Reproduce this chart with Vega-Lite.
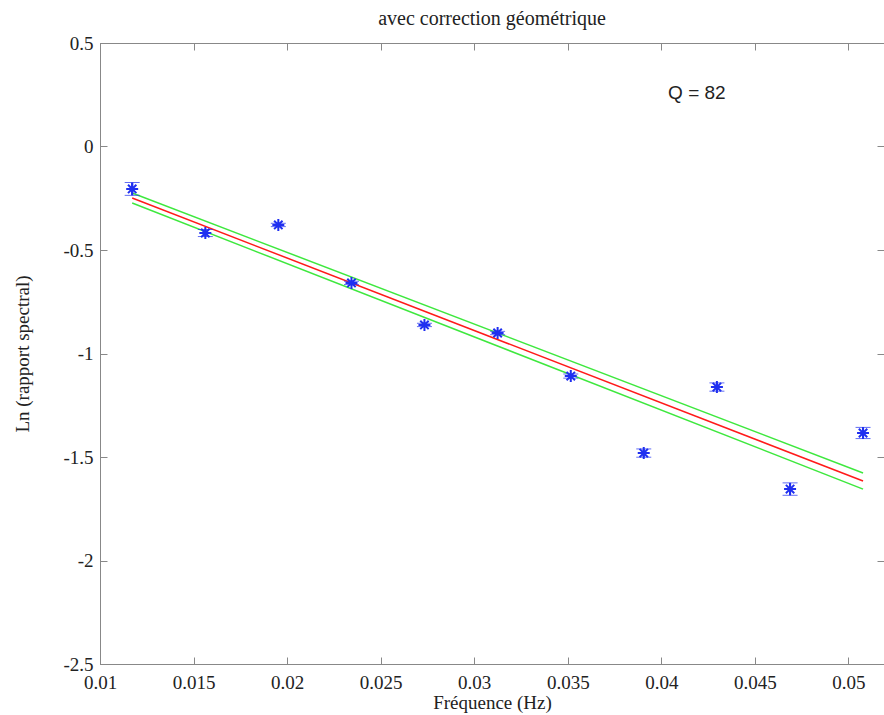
{
  "$schema": "https://vega.github.io/schema/vega-lite/v6.json",
  "width": 784,
  "height": 621,
  "autosize": {"type": "none"},
  "padding": {"left": 100, "top": 43, "right": 0, "bottom": 51},
  "background": "white",
  "title": {"text": "avec correction géométrique", "font": "Liberation Serif", "fontSize": 20, "fontWeight": "normal", "color": "#222222", "offset": 5},
  "config": {
    "view": {"stroke": "#888888", "strokeWidth": 1},
    "axis": {
      "labelFont": "Liberation Serif", "labelFontSize": 19, "labelColor": "#222222", "labelFlush": false,
      "titleFont": "Liberation Serif", "titleFontSize": 19, "titleFontWeight": "normal", "titleColor": "#222222",
      "grid": false, "domainColor": "#888888", "tickColor": "#888888", "tickSize": -7
    }
  },
  "datasets": {
    "pts": [
      {"f": 0.01172, "v": -0.205, "lo": -0.236, "hi": -0.174},
      {"f": 0.01563, "v": -0.418, "lo": -0.435, "hi": -0.401},
      {"f": 0.01953, "v": -0.379, "lo": -0.387, "hi": -0.371},
      {"f": 0.02344, "v": -0.659, "lo": -0.667, "hi": -0.651},
      {"f": 0.02734, "v": -0.862, "lo": -0.870, "hi": -0.854},
      {"f": 0.03125, "v": -0.901, "lo": -0.909, "hi": -0.893},
      {"f": 0.03516, "v": -1.109, "lo": -1.119, "hi": -1.099},
      {"f": 0.03906, "v": -1.481, "lo": -1.501, "hi": -1.461},
      {"f": 0.04297, "v": -1.162, "lo": -1.182, "hi": -1.142},
      {"f": 0.04688, "v": -1.655, "lo": -1.685, "hi": -1.625},
      {"f": 0.05078, "v": -1.384, "lo": -1.411, "hi": -1.357}
    ],
    "fit": [
      {"f": 0.01172, "v": -0.225, "s": "haut"},
      {"f": 0.05078, "v": -1.577, "s": "haut"},
      {"f": 0.01172, "v": -0.273, "s": "bas"},
      {"f": 0.05078, "v": -1.655, "s": "bas"},
      {"f": 0.01172, "v": -0.249, "s": "ajust"},
      {"f": 0.05078, "v": -1.616, "s": "ajust"}
    ],
    "note": [{"f": 0.0419, "v": 0.258, "t": "Q = 82"}]
  },
  "resolve": {"axis": {"x": "independent", "y": "independent"}},
  "layer": [
    {
      "data": {"name": "fit"},
      "mark": {"type": "line"},
      "encoding": {
        "x": {"field": "f", "type": "quantitative", "scale": {"domain": [0.01, 0.0519], "nice": false},
              "axis": {"orient": "bottom", "title": "Fréquence (Hz)", "values": [0.01, 0.015, 0.02, 0.025, 0.03, 0.035, 0.04, 0.045, 0.05], "format": ".3~f", "labelPadding": 16, "titlePadding": 1}},
        "y": {"field": "v", "type": "quantitative", "scale": {"domain": [-2.5, 0.5], "nice": false},
              "axis": {"orient": "left", "title": "Ln (rapport spectral)", "values": [0.5, 0, -0.5, -1, -1.5, -2, -2.5], "labelExpr": "datum.value + ''", "labelPadding": 14, "titlePadding": 30}},
        "color": {"field": "s", "type": "nominal", "scale": {"domain": ["haut", "bas", "ajust"], "range": ["#3ee83e", "#3ee83e", "#ff1a1a"]}, "legend": null},
        "strokeWidth": {"field": "s", "type": "nominal", "scale": {"domain": ["haut", "bas", "ajust"], "range": [1.5, 1.5, 2.5]}, "legend": null},
        "detail": {"field": "s"}
      }
    },
    {
      "data": {"name": "pts"},
      "mark": {"type": "errorbar", "ticks": {"size": 15, "color": "#1f2ff0", "strokeWidth": 2}, "rule": {"color": "#1f2ff0", "strokeWidth": 2}},
      "encoding": {
        "x": {"field": "f", "type": "quantitative", "scale": {"domain": [0.01, 0.0519], "nice": false}, "axis": null},
        "y": {"field": "lo", "type": "quantitative", "scale": {"domain": [-2.5, 0.5], "nice": false}, "axis": null},
        "y2": {"field": "hi"}
      }
    },
    {
      "data": {"name": "pts"},
      "mark": {"type": "point", "shape": "M-1,0L1,0M0,-1L0,1M-0.7,-0.7L0.7,0.7M-0.7,0.7L0.7,-0.7", "filled": false, "stroke": "#1f2ff0", "strokeWidth": 2, "size": 144, "opacity": 1},
      "encoding": {
        "x": {"field": "f", "type": "quantitative", "scale": {"domain": [0.01, 0.0519], "nice": false}, "axis": null},
        "y": {"field": "v", "type": "quantitative", "scale": {"domain": [-2.5, 0.5], "nice": false}, "axis": null}
      }
    },
    {
      "data": {"name": "note"},
      "mark": {"type": "text", "font": "Liberation Sans", "fontSize": 19, "color": "#222222", "align": "center", "baseline": "middle"},
      "encoding": {
        "x": {"field": "f", "type": "quantitative", "scale": {"domain": [0.01, 0.0519], "nice": false}, "axis": null},
        "y": {"field": "v", "type": "quantitative", "scale": {"domain": [-2.5, 0.5], "nice": false}, "axis": null},
        "text": {"field": "t"}
      }
    },
    {
      "data": {"name": "pts"},
      "mark": {"type": "point", "opacity": 0},
      "encoding": {
        "x": {"field": "f", "type": "quantitative", "scale": {"domain": [0.01, 0.0519], "nice": false},
              "axis": {"orient": "top", "title": null, "labels": false, "values": [0.01, 0.015, 0.02, 0.025, 0.03, 0.035, 0.04, 0.045, 0.05]}},
        "y": {"field": "v", "type": "quantitative", "scale": {"domain": [-2.5, 0.5], "nice": false},
              "axis": {"orient": "right", "title": null, "labels": false, "values": [0.5, 0, -0.5, -1, -1.5, -2, -2.5]}}
      }
    }
  ]
}
